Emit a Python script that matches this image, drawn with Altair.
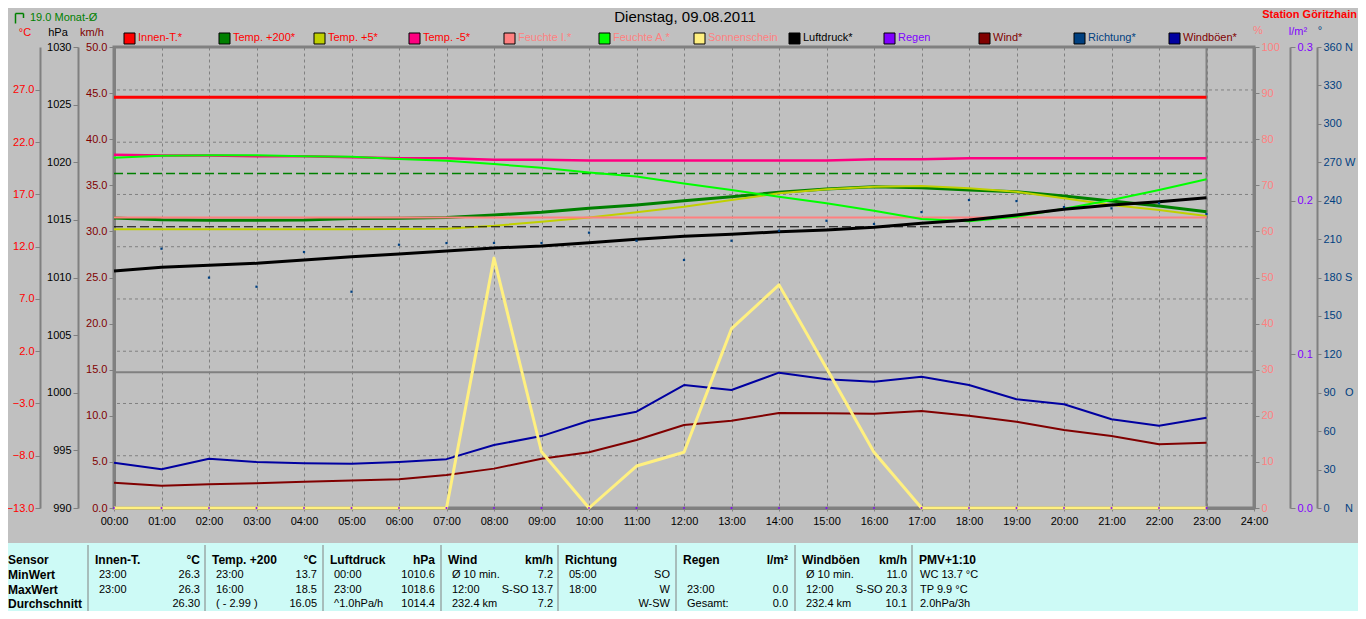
import altair as alt
import pandas as pd

# ---------------- values ----------------
HOURS = [0, 1, 2, 3, 4, 5, 6, 7, 8, 9, 10, 11, 12, 13, 14, 15, 16, 17, 18, 19, 20, 21, 22, 23]
INNEN_T = [26.3, 26.3, 26.3, 26.3, 26.3, 26.3, 26.3, 26.3, 26.3, 26.3, 26.3, 26.3,
           26.3, 26.3, 26.3, 26.3, 26.3, 26.3, 26.3, 26.3, 26.3, 26.3, 26.3, 26.3]
TEMP_200 = [14.75, 14.58, 14.53, 14.53, 14.55, 14.69, 14.72, 14.80, 15.04, 15.30, 15.68, 16.00,
            16.40, 16.79, 17.21, 17.53, 17.75, 17.65, 17.43, 17.27, 16.86, 16.38, 15.90, 15.35]
TEMP_5 = [13.67, 13.67, 13.67, 13.67, 13.67, 13.68, 13.70, 13.73, 14.00, 14.40, 14.80, 15.30,
          15.83, 16.47, 17.11, 17.50, 17.75, 17.81, 17.59, 17.27, 16.64, 16.00, 15.52, 14.94]
TEMP_M5 = [20.81, 20.72, 20.72, 20.65, 20.65, 20.56, 20.46, 20.46, 20.33, 20.33, 20.24, 20.24,
           20.24, 20.24, 20.24, 20.24, 20.37, 20.37, 20.46, 20.46, 20.46, 20.46, 20.46, 20.46]
FEUCHTE_I = [63.0, 63.0, 63.0, 63.0, 63.0, 63.0, 63.0, 63.0, 63.0, 63.0, 63.0, 63.0,
             63.0, 63.0, 63.0, 63.0, 63.0, 63.0, 63.0, 63.0, 63.0, 63.0, 63.0, 63.0]
FEUCHTE_A = [76.0, 76.4, 76.5, 76.5, 76.3, 76.2, 75.7, 75.3, 74.6, 73.8, 72.8, 71.9,
             70.4, 69.0, 67.5, 66.1, 64.5, 62.7, 62.2, 63.2, 64.9, 66.8, 69.0, 71.3]
SONNE = [0, 0, 0, 0, 0, 0, 0, 0, 54.2, 12.2, 0, 9.1,
         12.1, 38.9, 48.4, 30.3, 12.1, 0, 0, 0, 0, 0, 0, 0]
LUFTDRUCK = [1010.56, 1010.88, 1011.06, 1011.23, 1011.52, 1011.81, 1012.04, 1012.30, 1012.56, 1012.73, 1013.02, 1013.31,
             1013.57, 1013.75, 1013.97, 1014.12, 1014.35, 1014.70, 1014.99, 1015.42, 1015.92, 1016.29, 1016.58, 1016.92]
REGEN = [0.0, 0.0, 0.0, 0.0, 0.0, 0.0, 0.0, 0.0, 0.0, 0.0, 0.0, 0.0,
         0.0, 0.0, 0.0, 0.0, 0.0, 0.0, 0.0, 0.0, 0.0, 0.0, 0.0, 0.0]
WIND = [2.75, 2.42, 2.57, 2.68, 2.86, 2.97, 3.11, 3.58, 4.27, 5.35, 6.04, 7.38,
        9.00, 9.47, 10.30, 10.27, 10.23, 10.52, 10.01, 9.36, 8.46, 7.81, 6.91, 7.08]
BOEEN = [4.90, 4.20, 5.35, 4.99, 4.85, 4.80, 5.00, 5.30, 6.83, 7.80, 9.47, 10.45,
         13.34, 12.80, 14.68, 13.96, 13.70, 14.24, 13.34, 11.79, 11.25, 9.62, 8.93, 9.80]
RICHTUNG_HOURS = [1, 2, 3, 4, 5, 6, 7, 8, 9, 10, 11, 12, 13, 14, 15, 16, 17, 18, 19, 20, 21, 22, 23]
RICHTUNG = [202.5, 179.9, 172.8, 199.9, 168.9, 205.6, 206.9, 207.0, 206.9, 215.0, 208.7, 193.7,
            208.7, 216.5, 224.3, 221.8, 231.1, 240.5, 239.7, 235.0, 234.0, 238.0, 229.6]
MONAT_AVG = 19.0
LUFTDRUCK_AVG = 1014.4
AVG_HOURS = [0, 23]
NOW_HOUR = [23]

TIME_TICKS = [0, 1, 2, 3, 4, 5, 6, 7, 8, 9, 10, 11, 12, 13, 14, 15, 16, 17, 18, 19, 20, 21, 22, 23, 24]
CELSIUS_TICKS = [-13, -8, -3, 2, 7, 12, 17, 22, 27]
HPA_TICKS = [990, 995, 1000, 1005, 1010, 1015, 1020, 1025, 1030]
KMH_TICKS = [0, 5, 10, 15, 20, 25, 30, 35, 40, 45, 50]
PCT_TICKS = [0, 10, 20, 30, 40, 50, 60, 70, 80, 90, 100]
RAIN_TICKS = [0.0, 0.1, 0.2, 0.3]
DEG_TICKS = [0, 30, 60, 90, 120, 150, 180, 210, 240, 270, 300, 330, 360]

LEGEND_LABELS = ["Innen-T.*", "Temp. +200*", "Temp. +5*", "Temp. -5*", "Feuchte I.*", "Feuchte A.*",
                 "Sonnenschein", "Luftdruck*", "Regen", "Wind*", "Richtung*", "Windböen*"]
LEGEND_FILL = ["#ff0000", "#008000", "#c0d000", "#ff0080", "#ff8080", "#00ff00",
               "#fff080", "#000000", "#8000ff", "#800000", "#004080", "#0000a0"]
LEGEND_TEXT = ["#ff0000", "#ff0000", "#ff0000", "#ff0000", "#ff8080", "#ff8080",
               "#ff8080", "#000000", "#8000ff", "#800000", "#004080", "#800000"]

TABLE_HEAD = ["Innen-T.", "Temp. +200", "Luftdruck", "Wind", "Richtung", "Regen", "Windböen", "PMV+1:10"]
TABLE_UNIT = ["°C", "°C", "hPa", "km/h", "", "l/m²", "km/h", ""]
TABLE_ROWS = ["MinWert", "MaxWert", "Durchschnitt"]
TABLE_LEFT = [["23:00", "23:00", ""],
              ["23:00", "16:00", "( - 2.99 )"],
              ["00:00", "23:00", "^1.0hPa/h"],
              ["Ø 10 min.", "12:00", "232.4 km"],
              ["05:00", "18:00", ""],
              ["", "23:00", "Gesamt:"],
              ["Ø 10 min.", "12:00", "232.4 km"],
              ["WC 13.7 °C", "TP 9.9 °C", "2.0hPa/3h"]]
TABLE_RIGHT = [["26.3", "26.3", "26.30"],
               ["13.7", "18.5", "16.05"],
               ["1010.6", "1018.6", "1014.4"],
               ["7.2", "S-SO 13.7", "7.2"],
               ["SO", "W", "W-SW"],
               ["", "0.0", "0.0"],
               ["11.0", "S-SO 20.3", "10.1"],
               ["", "", ""]]

# ---------------- layout / style ----------------
FONT = "Liberation Sans"
GREY = "#808080"
OX, OY = 114, 47          # page position of the plot origin
PW, PH = 1140, 461        # plot area size

def rx(px):
    return px - OX

def ry(py):
    return py - OY

X_SCALE = alt.Scale(domain=[0, 24], nice=False, zero=False)
T_DOM = [-13.0, 31.11]
HPA_DOM = [990, 1030]
KMH_DOM = [0, 50]
PCT_DOM = [0, 100]
RAIN_DOM = [0, 0.3]
DEG_DOM = [0, 360]

X_AXIS = alt.Axis(values=TIME_TICKS,
                  labelExpr="(datum.value < 10 ? '0' : '') + datum.value + ':00'",
                  grid=True, gridColor=GREY, gridDash=[3, 3], gridWidth=1,
                  domainColor=GREY, domainWidth=3, tickColor=GREY, tickSize=3,
                  labelColor="#000000", labelFont=FONT, labelFontSize=11, labelPadding=4,
                  labelFlush=False, labelOverlap=False, title=None)


def yaxis(orient, offset, values, fmt, color, domain_width=2, label_expr=None, pad=2, tick=5):
    kw = dict(orient=orient, offset=offset, values=values, format=fmt, labelColor=color,
              labelFont=FONT, labelFontSize=11, labelPadding=pad, tickColor=GREY, tickSize=tick,
              domainColor=GREY, domainWidth=domain_width, grid=False, title=None,
              labelOverlap=False, labelFlush=False)
    if label_expr is not None:
        kw["labelExpr"] = label_expr
    return alt.Axis(**kw)


NB = "\u00a0"
DEG_EXPR = ("datum.value == 0 ? '0" + NB * 5 + "N' : datum.value == 90 ? '90" + NB * 3 + "O' : "
            "datum.value == 180 ? '180" + NB + "S' : datum.value == 270 ? '270" + NB + "W' : "
            "datum.value == 360 ? '360" + NB + "N' : datum.label")

T_AXIS = yaxis("left", 74, CELSIUS_TICKS, ".1f", "#ff0000", pad=1)
HPA_AXIS = yaxis("left", 36, HPA_TICKS, "d", "#000000")
KMH_AXIS = yaxis("left", 0, KMH_TICKS, ".1f", "#800000", domain_width=3)
PCT_AXIS = yaxis("right", 0, PCT_TICKS, "d", "#ff8080", domain_width=3)
RAIN_AXIS = yaxis("right", 36, RAIN_TICKS, ".1f", "#8000ff")
DEG_AXIS = yaxis("right", 63, DEG_TICKS, "d", "#004080", label_expr=DEG_EXPR, pad=2, tick=4)


def yscale(dom):
    return alt.Scale(domain=dom, nice=False, zero=False)


def xenc():
    # every layer carries the same x axis definition so that they merge into one axis
    return alt.X("h:Q", scale=X_SCALE, axis=X_AXIS)


def line(hours, values, color, width, dom, yax=None, dash=None):
    props = {"color": color, "strokeWidth": width, "strokeJoin": "round"}
    if dash is not None:
        props["strokeDash"] = dash
    return alt.Chart(pd.DataFrame({"h": hours, "v": values})).mark_line(**props).encode(
        x=xenc(), y=alt.Y("v:Q", scale=yscale(dom), axis=yax))


def hrule(values, dom, **props):
    return alt.Chart(pd.DataFrame({"v": values})).mark_rule(**props).encode(
        y=alt.Y("v:Q", scale=yscale(dom), axis=None))


# ---------------- data layers (flat, each with its own y scale) ----------------
data_layers = [
    hrule(CELSIUS_TICKS[1:], T_DOM, color=GREY, strokeWidth=1, strokeDash=[3, 3]),
    hrule([0.0], T_DOM, color=GREY, strokeWidth=2),
    alt.Chart(pd.DataFrame({"h": NOW_HOUR})).mark_rule(color=GREY, strokeWidth=2).encode(x=xenc()),
    line(HOURS, INNEN_T, "#ff0000", 3, T_DOM, yax=T_AXIS),
    line(AVG_HOURS, [MONAT_AVG, MONAT_AVG], "#008000", 1.5, T_DOM, dash=[9, 4]),
    line(HOURS, TEMP_M5, "#ff0080", 2.5, T_DOM),
    line(HOURS, TEMP_200, "#008000", 3, T_DOM),
    line(HOURS, TEMP_5, "#c0d000", 2, T_DOM),
    line(HOURS, WIND, "#800000", 2, KMH_DOM, yax=KMH_AXIS),
    line(HOURS, BOEEN, "#0000a0", 2, KMH_DOM),
    line(HOURS, FEUCHTE_I, "#ff8080", 2, PCT_DOM, yax=PCT_AXIS),
    line(HOURS, FEUCHTE_A, "#00ff00", 2, PCT_DOM),
    line(HOURS, SONNE, "#fff080", 3, PCT_DOM),
    line(AVG_HOURS, [LUFTDRUCK_AVG, LUFTDRUCK_AVG], "#000000", 1, HPA_DOM, yax=HPA_AXIS, dash=[9, 4]),
    line(HOURS, LUFTDRUCK, "#000000", 3, HPA_DOM),
    alt.Chart(pd.DataFrame({"h": HOURS, "v": REGEN})).mark_square(
        size=3, color="#8000ff", opacity=1).encode(
        x=xenc(), y=alt.Y("v:Q", scale=yscale(RAIN_DOM), axis=RAIN_AXIS)),
    alt.Chart(pd.DataFrame({"h": RICHTUNG_HOURS, "v": RICHTUNG})).mark_square(
        size=5, color="#004080", opacity=1).encode(
        x=xenc(), y=alt.Y("v:Q", scale=yscale(DEG_DOM), axis=DEG_AXIS)),
]

# ---------------- annotations ----------------
def text_layer(rows, align="left", weight="normal", size=11):
    df = pd.DataFrame(rows, columns=["px", "py", "t", "c"])
    return alt.Chart(df).mark_text(align=align, baseline="middle", font=FONT, fontSize=size,
                                   fontWeight=weight).encode(
        x=alt.X("px:Q", scale=None, axis=None), y=alt.Y("py:Q", scale=None, axis=None),
        text=alt.Text("t:N"), color=alt.Color("c:N", scale=None, legend=None))


def box_layer(df, **props):
    return alt.Chart(df).mark_rect(**props).encode(
        x=alt.X("px:Q", scale=None, axis=None), x2="px2:Q",
        y=alt.Y("py:Q", scale=None, axis=None), y2="py2:Q")


def seg_layer(df, **props):
    return alt.Chart(df).mark_rule(**props).encode(
        x=alt.X("px:Q", scale=None, axis=None), x2="px2:Q",
        y=alt.Y("py:Q", scale=None, axis=None), y2="py2:Q")


header_center = [(rx(685), ry(17), "Dienstag, 09.08.2011", "#000000")]
unit_center = [
    (rx(25), ry(33), "°C", "#ff0000"),
    (rx(58), ry(33), "hPa", "#000000"),
    (rx(92), ry(33), "km/h", "#800000"),
    (rx(1258), ry(31), "%", "#ff8080"),
    (rx(1298), ry(32), "l/m²", "#8000ff"),
    (rx(1320), ry(31), "°", "#004080"),
]
station = [(rx(1357), ry(15), "Station Göritzhain", "#ff0000")]
monat = [(rx(30), ry(18), "19.0 Monat-Ø", "#008000")]

monat_icon = seg_layer(pd.DataFrame({
    "px": [rx(15.5), rx(15.5), rx(23.5)],
    "px2": [rx(15.5), rx(23.5), rx(23.5)],
    "py": [ry(13.5), ry(13.5), ry(13.5)],
    "py2": [ry(23.5), ry(13.5), ry(18)],
}), color="#008000", strokeWidth=1.5)

legend_text = [(rx(138 + 95 * i), ry(38), lab, LEGEND_TEXT[i]) for i, lab in enumerate(LEGEND_LABELS)]
legend_box = pd.DataFrame({
    "px": [rx(124 + 95 * i) for i in range(len(LEGEND_LABELS))],
    "px2": [rx(135 + 95 * i) for i in range(len(LEGEND_LABELS))],
    "py": [ry(33)] * len(LEGEND_LABELS),
    "py2": [ry(44)] * len(LEGEND_LABELS),
    "c": LEGEND_FILL,
})
legend_squares = alt.Chart(legend_box).mark_rect(stroke="#000000", strokeWidth=1).encode(
    x=alt.X("px:Q", scale=None, axis=None), x2="px2:Q",
    y=alt.Y("py:Q", scale=None, axis=None), y2="py2:Q",
    color=alt.Color("c:N", scale=None, legend=None))

# ---- summary table ----
SEC_L = [0, 88, 205, 323, 441, 558, 676, 795, 912]
ROW_Y = [560, 575, 590, 604]
TABLE_TOP, TABLE_BOTTOM = 543, 611

table_bg = box_layer(pd.DataFrame({"px": [rx(0)], "px2": [rx(1358)], "py": [ry(TABLE_TOP)],
                                   "py2": [ry(TABLE_BOTTOM)]}), fill="#cdfaf6")

table_sep = alt.Chart(pd.DataFrame({"px": [rx(v) for v in SEC_L[1:]],
                                    "py": [ry(TABLE_TOP + 2)] * (len(SEC_L) - 1),
                                    "py2": [ry(TABLE_BOTTOM)] * (len(SEC_L) - 1)})).mark_rule(
    color=GREY, strokeWidth=1).encode(
    x=alt.X("px:Q", scale=None, axis=None),
    y=alt.Y("py:Q", scale=None, axis=None), y2="py2:Q")

bold_left = [(rx(8), ry(ROW_Y[0]), "Sensor", "#000000")]
bold_left += [(rx(8), ry(ROW_Y[r + 1]), name, "#000000") for r, name in enumerate(TABLE_ROWS)]
bold_left += [(rx(SEC_L[i + 1] + 7), ry(ROW_Y[0]), h, "#000000") for i, h in enumerate(TABLE_HEAD)]
bold_right = [(rx(SEC_L[i + 1] + 112), ry(ROW_Y[0]), u, "#000000") for i, u in enumerate(TABLE_UNIT) if u]

val_left = []
val_right = []
for i in range(len(TABLE_HEAD)):
    left_pad = 8 if i == len(TABLE_HEAD) - 1 else 11
    for r in range(3):
        if TABLE_LEFT[i][r]:
            val_left.append((rx(SEC_L[i + 1] + left_pad), ry(ROW_Y[r + 1]), TABLE_LEFT[i][r], "#000000"))
        if TABLE_RIGHT[i][r]:
            val_right.append((rx(SEC_L[i + 1] + 112), ry(ROW_Y[r + 1]), TABLE_RIGHT[i][r], "#000000"))

annotations = [
    text_layer(header_center, align="center", size=15),
    text_layer(unit_center, align="center", size=11),
    text_layer(station, align="right", weight="bold", size=11),
    text_layer(monat, align="left", size=11),
    monat_icon,
    legend_squares,
    text_layer(legend_text, align="left", size=11),
    table_bg,
    table_sep,
    text_layer(bold_left, align="left", weight="bold", size=12),
    text_layer(bold_right, align="right", weight="bold", size=12),
    text_layer(val_left, align="left", size=11),
    text_layer(val_right, align="right", size=11),
]

chart = alt.layer(
    *data_layers, *annotations
).resolve_scale(
    y="independent"
).properties(
    width=PW, height=PH,
    background="#c0c0c0",
    padding={"left": 106, "top": 39, "right": 104, "bottom": 103},
    autosize=alt.AutoSizeParams(type="none"),
).configure_view(
    stroke=GREY, strokeWidth=3
)

chart.save("out.html", embed_options={"renderer": "svg", "actions": False})
